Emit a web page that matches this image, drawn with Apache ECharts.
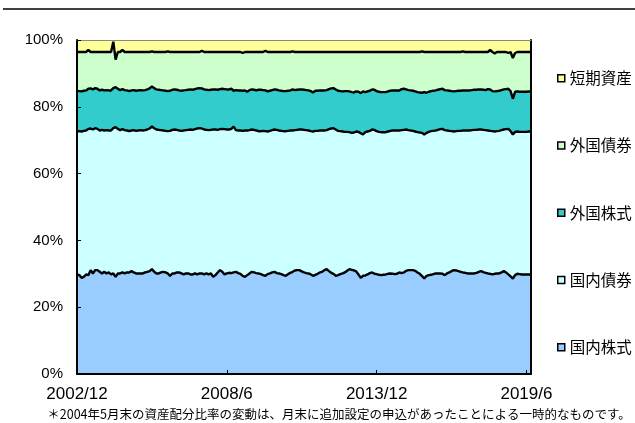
<!DOCTYPE html>
<html><head><meta charset="utf-8">
<script src="https://cdn.jsdelivr.net/npm/echarts@6/dist/echarts.min.js"></script>
<style>html,body{margin:0;padding:0;background:#fff}#c{width:635px;height:423px}</style>
</head><body><div id="c"></div>
<script>
// Monthly categories 2002/12 .. 2019/8
const startYear = 2002, startMonth = 12, monthCount = 201;
const categories = [];
for (let i = 0; i < monthCount; i++) {
  const t = startYear * 12 + (startMonth - 1) + i;
  categories.push(Math.floor(t / 12) + '/' + (t % 12 + 1));
}
const labelEvery = 66; // 2002/12, 2008/6, 2013/12, 2019/6

const seriesNames = ['国内株式', '国内債券', '外国株式', '外国債券', '短期資産'];
const legendOrder = ['短期資産', '外国債券', '外国株式', '国内債券', '国内株式'];
const footnote = '＊2004年5月末の資産配分比率の変動は、月末に追加設定の申込があったことによる一時的なものです。';

// 国内株式 (%)
const domesticStocks = [
29.8,29.6,28.8,29.1,29.8,29.6,31.1,30.1,31.1,31.1,
30.6,30.1,30.6,30.1,30.4,29.8,30.1,29.1,30.1,30.1,
30.4,30.1,30.4,30.4,30.8,30.4,30.1,30.1,30.1,30.1,
30.4,30.6,30.8,31.4,30.6,30.1,30.1,30.4,30.6,30.4,
30.1,29.4,30.1,30.1,30.4,30.4,30.1,29.8,30.1,30.1,
29.8,29.8,30.1,29.8,30.1,30.1,29.8,30.1,29.8,30.1,
29.1,29.6,30.4,31.1,30.6,29.8,30.1,30.3,30.2,30.4,
30.6,30.2,30.0,29.4,29.1,29.6,30.1,30.6,30.4,30.2,
30.1,29.9,29.6,29.4,29.9,30.1,30.4,30.6,30.2,30.1,
29.9,29.6,29.4,29.9,30.3,30.6,31.0,31.1,31.1,30.7,
30.4,30.2,30.1,29.8,29.4,29.7,30.0,30.4,30.6,31.1,
31.4,30.8,30.3,30.0,29.4,29.6,29.9,30.1,30.4,30.9,
31.4,31.2,31.0,30.7,29.8,28.8,29.4,29.5,29.8,30.2,
30.4,30.0,29.9,29.7,29.6,29.7,29.8,30.0,30.1,30.0,
29.9,30.0,30.4,30.2,30.4,30.9,31.1,31.1,31.1,30.9,
30.4,30.0,29.3,28.6,29.4,29.6,29.7,29.9,30.1,30.1,
30.1,30.0,29.6,30.1,30.4,30.8,31.1,31.0,30.8,30.6,
30.4,30.3,30.1,30.1,30.1,30.1,30.3,30.6,30.8,30.5,
30.3,30.1,30.0,29.8,30.0,30.1,30.1,30.4,30.8,30.4,
29.8,29.2,28.6,29.6,30.0,29.9,29.8,29.8,29.8,29.8,29.8
];
// 国内債券 (%)
const domesticBonds = [
42.9,43.1,43.8,43.7,43.1,43.8,42.4,43.1,42.5,42.3,
42.3,43.0,42.3,42.9,42.5,43.1,43.5,44.8,43.3,42.9,
42.9,42.9,42.5,42.3,42.1,42.6,42.7,42.8,42.9,42.8,
42.6,42.6,42.7,42.7,43.0,43.1,43.0,42.6,42.3,42.4,
42.6,43.4,43.0,43.1,42.7,42.5,42.7,43.1,42.9,43.0,
43.4,43.3,43.2,43.7,43.5,43.4,43.4,43.0,43.2,43.0,
44.1,43.6,42.7,42.2,42.8,43.5,43.1,42.9,43.2,43.7,
42.4,42.7,42.9,43.4,43.8,43.3,42.9,42.6,42.7,42.7,
42.6,42.8,43.2,43.3,42.7,42.7,42.6,42.6,42.9,42.8,
42.9,43.1,43.3,42.9,42.6,42.3,42.0,42.0,42.1,42.5,
42.7,42.8,42.8,42.9,43.2,43.1,42.8,42.5,42.3,41.8,
41.6,42.5,43.2,43.6,43.8,43.2,42.8,42.5,42.1,41.6,
41.0,41.0,41.3,41.9,42.7,43.3,42.3,42.9,42.8,42.6,
42.8,43.1,42.8,42.8,42.8,42.7,42.6,42.6,42.7,42.9,
43.0,42.9,42.5,42.8,42.7,42.3,41.9,41.8,41.7,41.7,
42.0,42.3,42.9,43.1,42.8,42.9,43.0,42.9,42.8,43.0,
43.2,43.4,43.4,42.8,42.4,41.9,41.5,41.7,42.0,42.2,
42.5,42.6,42.8,42.8,42.9,43.0,42.8,42.6,42.4,42.6,
42.7,42.8,42.8,42.9,42.6,42.6,42.7,42.6,42.4,42.9,
43.6,43.5,43.1,42.9,42.6,42.6,42.7,42.7,42.7,42.8,42.8
];
// 外国株式 (%)
const foreignStocks = [
12,12,12,12,12,12,12,12,12,12,
12,12,12,12,12,12,12,12,12,12,
12,12,12,12,12,12,12,12,12,12,
12,12,12,12,12,12,12,12,12,12,
12,12,12,12,12,12,12,12,12,12,
12,12,12,12,12,12,12,12,12,12,
12,12,12,12,12,12,12,12,12,10.7,
12,12,12,12,12,11.6,12,12,12,12,
12.4,12.4,12.2,12.2,12,12,12,12,12,12,
12,12,12,12,12,12.3,12,12,12,12,
12,12,12,12,11.7,12,12,12,12,12,
12,12,12,12,12,12,12,12,12.2,12.2,
12.2,12.2,12,12,12,12,12.9,12,12,12,
12,12,12,12,12,12,12,12,12,12,
12,12,12,12.3,12.3,12,12,12,12,12,
12,12,12,12.7,12,12,12,12,12,12,
12,12,12,12,12,12,12,12,12,12,
12,12,12,12,12,12,12,12,12,12,
12,12.4,12.4,12,12,12,12,12,12,12,
12,12,10.7,12,12,12,12,12,12,12,12
];
// 外国債券 (%)
const foreignBonds = [
11.7,11.7,11.8,11.6,11.5,11.6,10.9,11.2,10.8,11.0,
11.5,11.3,11.5,11.4,11.5,11.5,13.9,8.2,11.0,11.4,
11.7,11.4,11.5,11.7,11.5,11.4,11.6,11.5,11.4,11.5,
11.4,11.2,10.9,10.5,10.8,11.2,11.3,11.4,11.5,11.6,
11.9,11.6,11.3,11.2,11.3,11.5,11.6,11.5,11.4,11.3,
11.2,11.3,11.1,10.9,10.8,11.3,11.2,11.3,11.4,11.3,
11.2,11.2,11.3,11.1,11.0,11.1,11.2,11.2,11.0,11.6,
11.4,11.5,11.5,11.3,11.5,11.9,11.4,11.2,11.3,11.5,
11.3,11.3,11.4,11.9,11.8,11.6,11.4,11.2,11.3,11.5,
11.6,11.7,11.7,11.6,11.5,11.4,11.4,11.3,11.2,11.2,
11.3,11.4,11.5,11.7,12.1,11.6,11.6,11.5,11.5,11.5,
11.4,11.1,10.9,10.8,11.2,11.6,11.7,11.8,11.7,11.7,
11.8,12.0,12.1,11.8,11.9,12.3,11.8,12.0,11.8,11.6,
11.2,11.3,11.7,11.9,12.0,12.0,12.0,11.8,11.6,11.5,
11.5,11.5,11.5,11.1,11.0,11.2,11.4,11.5,11.6,11.8,
12.0,12.1,12.4,12.0,12.2,11.9,11.7,11.6,11.5,11.3,
11.1,11.0,11.4,11.5,11.6,11.7,11.8,11.7,11.6,11.6,
11.7,11.5,11.5,11.5,11.4,11.3,11.3,11.2,11.2,11.3,
11.4,11.1,11.8,11.7,11.4,11.7,11.6,11.4,11.2,11.1,
10.7,11.7,12.2,11.6,11.8,11.9,11.9,11.9,11.9,11.8,11.8
];
// 短期資産 (%)
const shortTerm = [
3.6,3.6,3.6,3.6,3.6,3.0,3.6,3.6,3.6,3.6,
3.6,3.6,3.6,3.6,3.6,3.6,0.5,5.9,3.6,3.6,
3.0,3.6,3.6,3.6,3.6,3.6,3.6,3.6,3.6,3.6,
3.6,3.6,3.6,3.4,3.6,3.6,3.6,3.6,3.6,3.6,
3.4,3.6,3.6,3.6,3.6,3.6,3.6,3.6,3.6,3.6,
3.6,3.6,3.6,3.6,3.6,3.2,3.6,3.6,3.6,3.6,
3.6,3.6,3.6,3.6,3.6,3.6,3.6,3.6,3.6,3.6,
3.6,3.6,3.6,3.9,3.6,3.6,3.6,3.6,3.6,3.6,
3.6,3.6,3.6,3.2,3.6,3.6,3.6,3.6,3.6,3.6,
3.6,3.6,3.6,3.6,3.6,3.4,3.6,3.6,3.6,3.6,
3.6,3.6,3.6,3.6,3.6,3.6,3.6,3.6,3.6,3.6,
3.6,3.6,3.6,3.6,3.6,3.6,3.6,3.6,3.6,3.6,
3.6,3.6,3.6,3.6,3.6,3.6,3.6,3.6,3.6,3.6,
3.6,3.6,3.6,3.6,3.6,3.6,3.6,3.6,3.6,3.6,
3.6,3.6,3.6,3.6,3.6,3.6,3.6,3.6,3.6,3.6,
3.6,3.6,3.4,3.6,3.6,3.6,3.6,3.6,3.6,3.6,
3.6,3.6,3.6,3.6,3.6,3.6,3.6,3.6,3.6,3.6,
3.4,3.6,3.6,3.6,3.6,3.6,3.6,3.6,3.6,3.6,
3.6,3.6,3.0,3.6,4.0,3.6,3.6,3.6,3.6,3.6,
3.9,3.6,5.4,3.9,3.6,3.6,3.6,3.6,3.6,3.6,3.6
];

const seriesData = [domesticStocks, domesticBonds, foreignStocks, foreignBonds, shortTerm];
const areaColors = ['#99CCFF', '#CCFFFF', '#33CCCC', '#CCFFCC', '#FFFF99'];

const chart = echarts.init(document.getElementById('c'), null, { renderer: 'canvas' });
const showEvery = (idx) => idx % labelEvery === 0;

const series = seriesNames.map((name, i) => ({
  name: name,
  type: 'line',
  stack: 'total',
  data: seriesData[i],
  symbol: 'none',
  showSymbol: false,
  z: 10 - i,
  lineStyle: { color: '#000', width: i === 4 ? 0 : 2.4, opacity: i === 4 ? 0 : 1 },
  areaStyle: { color: areaColors[i], opacity: 1 },
  itemStyle: { color: areaColors[i] },
  emphasis: { disabled: true },
  silent: true
}));

chart.setOption({
  animation: false,
  backgroundColor: '#fff',
  grid: { left: 77, right: 104, top: 40, bottom: 49, containLabel: false },
  xAxis: [{
    type: 'category', data: categories, boundaryGap: false, z: 20,
    axisLine: { onZero: false, lineStyle: { color: '#000', width: 2 } },
    axisTick: { inside: true, length: 4, interval: (i) => showEvery(i), lineStyle: { color: '#000' } },
    axisLabel: { interval: (i) => showEvery(i), margin: 12, fontSize: 17, color: '#000', fontFamily: 'Liberation Sans' },
    splitLine: { show: false }
  }, {
    type: 'category', data: categories, boundaryGap: false, position: 'top', z: 20,
    axisLine: { onZero: false, lineStyle: { color: '#888', width: 1 } },
    axisTick: { show: false }, axisLabel: { show: false }, splitLine: { show: false }
  }],
  yAxis: [{
    type: 'value', min: 0, max: 100, interval: 20, z: 20,
    axisLine: { show: true, onZero: false, lineStyle: { color: '#000', width: 2 } },
    axisTick: { show: true, inside: true, length: 4, lineStyle: { color: '#000' } },
    axisLabel: { formatter: '{value}%', margin: 14, fontSize: 15, color: '#000', fontFamily: 'Liberation Sans' },
    splitLine: { show: false }
  }, {
    type: 'value', min: 0, max: 100, interval: 20, position: 'right', z: 20,
    axisLine: { show: true, onZero: false, lineStyle: { color: '#000', width: 2 } },
    axisTick: { show: false }, axisLabel: { show: false }, splitLine: { show: false }
  }],
  legend: {
    orient: 'vertical', left: 552, top: 65.5, itemGap: 51.75,
    itemWidth: 7, itemHeight: 7, icon: 'rect', selectedMode: false,
    textStyle: { fontSize: 15.5, fontFamily: 'Noto Sans CJK JP', color: '#000' },
    data: legendOrder.map((n) => ({
      name: n,
      itemStyle: { color: areaColors[seriesNames.indexOf(n)], borderColor: '#000', borderWidth: 1.5 }
    }))
  },
  graphic: [
    { type: 'line', shape: { x1: 3, y1: 9, x2: 635, y2: 9 }, style: { stroke: '#000', lineWidth: 1.5 } },
    { type: 'text', x: 339, y: 414,
      style: { text: footnote, font: '12.5px "Noto Sans CJK JP"', fill: '#000', align: 'center', verticalAlign: 'middle' } }
  ],
  series: series
});
</script>
</body></html>
